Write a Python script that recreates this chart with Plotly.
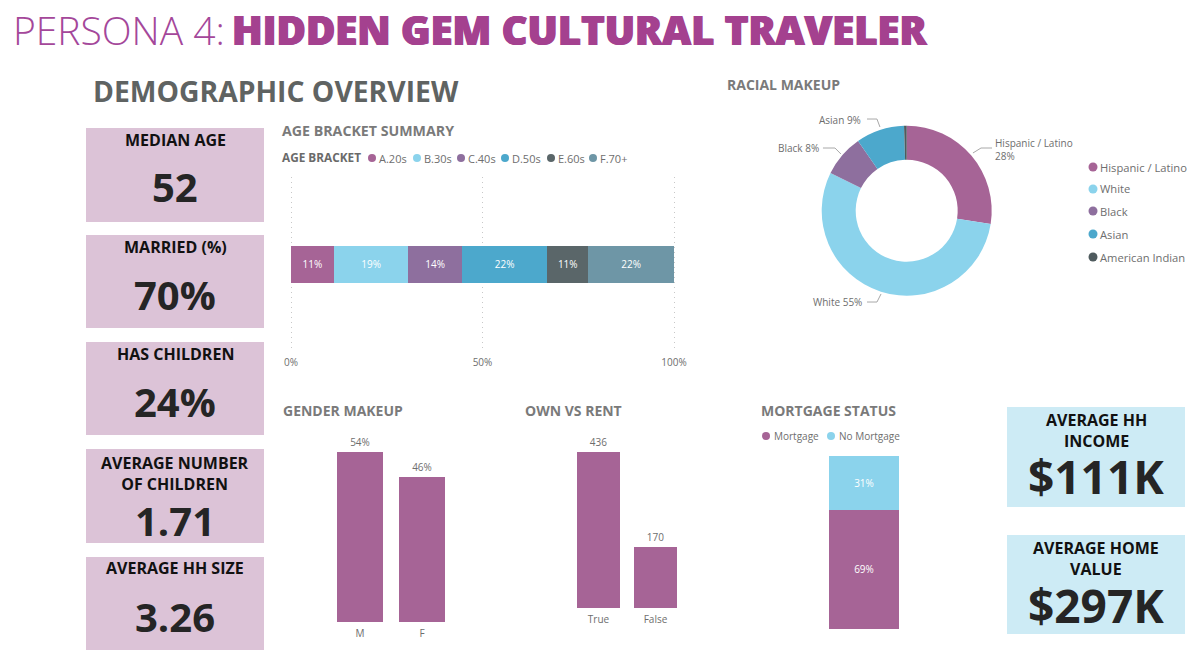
import plotly.graph_objects as go

W = 1200
H = 654

# data
age_brackets = ['A.20s', 'B.30s', 'C.40s', 'D.50s', 'E.60s', 'F.70+']
age_shares = [11.2, 19.4, 14.1, 22.2, 10.7, 22.4]
age_ticks = [0, 50, 100]

race_labels = ['Hispanic / Latino', 'White', 'Black', 'Asian', 'American Indian']
race_shares = [27.5, 54.8, 8.0, 9.2, 0.5]

gender_labels = ['M', 'F']
gender_shares = [54, 46]

own_labels = ['True', 'False']
own_counts = [436, 170]

mortgage_labels = ['Mortgage', 'No Mortgage']
mortgage_shares = [69, 31]

side_titles = ['MEDIAN AGE', 'MARRIED (%)', 'HAS CHILDREN', 'AVERAGE NUMBER<br>OF CHILDREN', 'AVERAGE HH SIZE']
side_values = ['52', '70%', '24%', '1.71', '3.26']
money_titles = ['AVERAGE HH<br>INCOME', 'AVERAGE HOME<br>VALUE']
money_values = ['$111K', '$297K']

PURPLE = '#A66496'
TITLE_PURPLE = '#A4418F'
age_colors = [PURPLE, '#8BD3EC', '#8E6F9E', '#4CA8CC', '#5A6669', '#6E96A6']
race_colors = [PURPLE, '#8BD3EC', '#8E6F9E', '#4CA8CC', '#4F5B5E']
FONT = 'Open Sans'
GREY = '#6E6E6E'


def px(x):
    return x / W


def py(y):
    return 1 - y / H


annotations = []
shapes = []


def label(text, x, y, size, color=GREY, anchor='left', weight=400, shadow='none'):
    annotations.append(dict(text=text, x=px(x), y=py(y), xref='paper', yref='paper',
                            xanchor=anchor, yanchor='middle', showarrow=False,
                            font=dict(family=FONT, size=size, color=color, weight=weight, shadow=shadow)))


def dot(x, y, r, color):
    shapes.append(dict(type='circle', xref='paper', yref='paper', x0=px(x - r), x1=px(x + r),
                       y0=py(y + r), y1=py(y - r), fillcolor=color, line_width=0))


def leader(points):
    path = ' '.join(('M' if i == 0 else 'L') + f' {px(p[0]):.4f} {py(p[1]):.4f}' for i, p in enumerate(points))
    shapes.append(dict(type='path', path=path, xref='paper', yref='paper',
                       line=dict(color='#A8A8A8', width=1)))


def card(x0, y0, x1, y1, color):
    shapes.append(dict(type='rect', xref='paper', yref='paper', x0=px(x0), x1=px(x1),
                       y0=py(y1), y1=py(y0), fillcolor=color, line_width=0, layer='below'))


fig = go.Figure()

# age bracket bar
for name, share, color in zip(age_brackets, age_shares, age_colors):
    fig.add_trace(go.Bar(x=[share], y=['Age'], orientation='h', name=name, marker_color=color,
                         marker_line_width=0, text=[f'{round(share)}%'], textposition='inside',
                         insidetextanchor='middle', textangle=0, width=0.21,
                         insidetextfont=dict(family=FONT, size=10, color='white'),
                         xaxis='x', yaxis='y'))

# donut
fig.add_trace(go.Pie(labels=race_labels, values=race_shares, hole=0.6, sort=False, direction='clockwise',
                     rotation=0, textinfo='none', marker=dict(colors=race_colors),
                     domain=dict(x=[px(821.7), px(991.7)], y=[py(295.7), py(125.7)])))

# gender
fig.add_trace(go.Bar(x=gender_labels, y=gender_shares, marker_color=PURPLE, marker_line_width=0,
                     text=[f'{v}%' for v in gender_shares], textposition='outside', cliponaxis=False,
                     textfont=dict(family=FONT, size=10, color=GREY), xaxis='x2', yaxis='y2'))

# own vs rent
fig.add_trace(go.Bar(x=own_labels, y=own_counts, marker_color=PURPLE, marker_line_width=0,
                     text=own_counts, textposition='outside', cliponaxis=False,
                     textfont=dict(family=FONT, size=10, color=GREY), xaxis='x3', yaxis='y3'))

# mortgage
for name, share, color in zip(mortgage_labels, mortgage_shares, [PURPLE, '#8BD3EC']):
    fig.add_trace(go.Bar(x=['Status'], y=[share], name=name, marker_color=color, marker_line_width=0,
                         text=[f'{share}%'], textposition='inside', insidetextanchor='middle', width=1,
                         insidetextfont=dict(family=FONT, size=10, color='white'),
                         xaxis='x4', yaxis='y4'))

# headings, the shadow thickens the title to the black weight of the original
label('PERSONA 4:', 11, 30, 39, color='#A4479A', weight=300)
label('HIDDEN GEM CULTURAL TRAVELER', 230, 30, 40, color=TITLE_PURPLE, weight=800,
      shadow=f'0.7px 0 0 {TITLE_PURPLE}, -0.7px 0 0 {TITLE_PURPLE}')
label('DEMOGRAPHIC OVERVIEW', 91, 91, 28.3, color='#5F6362', weight=700)
label('RACIAL MAKEUP', 725, 84, 14, color='#7A7A7A', weight=700)
label('AGE BRACKET SUMMARY', 280, 131, 14.2, color='#7A7A7A', weight=700)
label('GENDER MAKEUP', 281, 410, 14, color='#7A7A7A', weight=700)
label('OWN VS RENT', 523, 410, 14, color='#7A7A7A', weight=700)
label('MORTGAGE STATUS', 759, 410, 14, color='#7A7A7A', weight=700)

# kpi cards on the left
side_boxes = [(128, 222), (235, 328), (342, 435), (449, 543), (557, 650)]
side_title_y = [140, 247, 354, 473, 568]
side_value_y = [186, 294, 401, 520, 616]
for title, value, box, ty, vy in zip(side_titles, side_values, side_boxes, side_title_y, side_value_y):
    card(86, box[0], 264, box[1], '#DCC3D7')
    label(title, 175, ty, 16, color='#111111', anchor='center', weight=700)
    label(value, 175, vy, 40, color='#252525', anchor='center', weight=700)

# kpi cards on the right
money_boxes = [(407, 507), (535, 634)]
money_title_y = [430, 558]
money_value_y = [476, 605]
for title, value, box, ty, vy in zip(money_titles, money_values, money_boxes, money_title_y, money_value_y):
    card(1007, box[0], 1185, box[1], '#CDEBF5')
    label(title, 1096, ty, 16, color='#111111', anchor='center', weight=700)
    label(value, 1096, vy, 46, color='#252525', anchor='center', weight=700)

# age legend
label('AGE BRACKET', 280, 157, 11.8, color='#6A6A6A', weight=700)
age_dot_x = [372, 417, 461, 505, 551, 593]
for name, color, x in zip(age_brackets, age_colors, age_dot_x):
    dot(x, 158, 4, color)
    label(name, x + 5, 158, 11, color=GREY)

# race legend
race_legend_y = [167, 189, 211, 234, 257]
for name, color, y in zip(race_labels, race_colors, race_legend_y):
    dot(1093, y, 4.5, color)
    label(name, 1098, y, 11.2, color=GREY)

# donut labels and leader lines
label(race_labels[0], 993, 143, 10, color=GREY)
label(f'{round(race_shares[0])}%', 993, 156, 10, color=GREY)
label(f'{race_labels[1]} {round(race_shares[1])}%', 864, 302, 10, color=GREY, anchor='right')
label(f'{race_labels[2]} {round(race_shares[2])}%', 821, 148, 10, color=GREY, anchor='right')
label(f'{race_labels[3]} {round(race_shares[3])}%', 863, 120, 10, color=GREY, anchor='right')
leader([(973, 153), (981, 148), (992, 148)])
leader([(867, 302), (877, 302), (881, 294)])
leader([(823, 148), (835, 148), (841, 154)])
leader([(867, 119), (877, 119), (880, 127)])

# mortgage legend
for name, color, x in zip(mortgage_labels, [PURPLE, '#8BD3EC'], [766, 831]):
    dot(x, 436, 4, color)
    label(name, x + 6, 436, 10, color=GREY)

tick_font = dict(family=FONT, size=10, color=GREY)
hidden = dict(visible=False, fixedrange=True)

fig.update_layout(
    width=W,
    height=H,
    margin=dict(l=0, r=0, t=0, b=0, autoexpand=False),
    paper_bgcolor='white',
    plot_bgcolor='white',
    showlegend=False,
    barmode='stack',
    bargap=0.26,
    annotations=annotations,
    shapes=shapes,
    # range runs past 0-100 so the gridlines at both ends still draw
    xaxis=dict(domain=[px(287.17), px(677.83)], range=[-1, 101], tickvals=age_ticks,
               ticktext=[f'{t}%' for t in age_ticks], showgrid=True, griddash='1px,4px', gridcolor='#C8C8C8',
               gridwidth=1, zeroline=False, showline=False, ticks='', tickfont=tick_font, anchor='y',
               ticklabelstandoff=3),
    yaxis=dict(domain=[py(352), py(177)], anchor='x', **hidden),
    xaxis2=dict(domain=[px(329), px(453)], type='category', showgrid=False, showline=False, ticks='',
                tickfont=tick_font, anchor='y2', ticklabelstandoff=4),
    yaxis2=dict(domain=[py(622), py(452)], range=[0, 54], anchor='x2', **hidden),
    xaxis3=dict(domain=[px(570), px(684)], type='category', showgrid=False, showline=False, ticks='',
                tickfont=tick_font, anchor='y3', ticklabelstandoff=4),
    yaxis3=dict(domain=[py(608), py(452)], range=[0, 436], anchor='x3', **hidden),
    xaxis4=dict(domain=[px(829), px(899)], type='category', anchor='y4', **hidden),
    yaxis4=dict(domain=[py(629), py(456)], range=[0, 100], anchor='x4', **hidden),
)

fig.write_html("out.html", post_script="document.body.style.margin='0';", config=dict(displayModeBar=False))
